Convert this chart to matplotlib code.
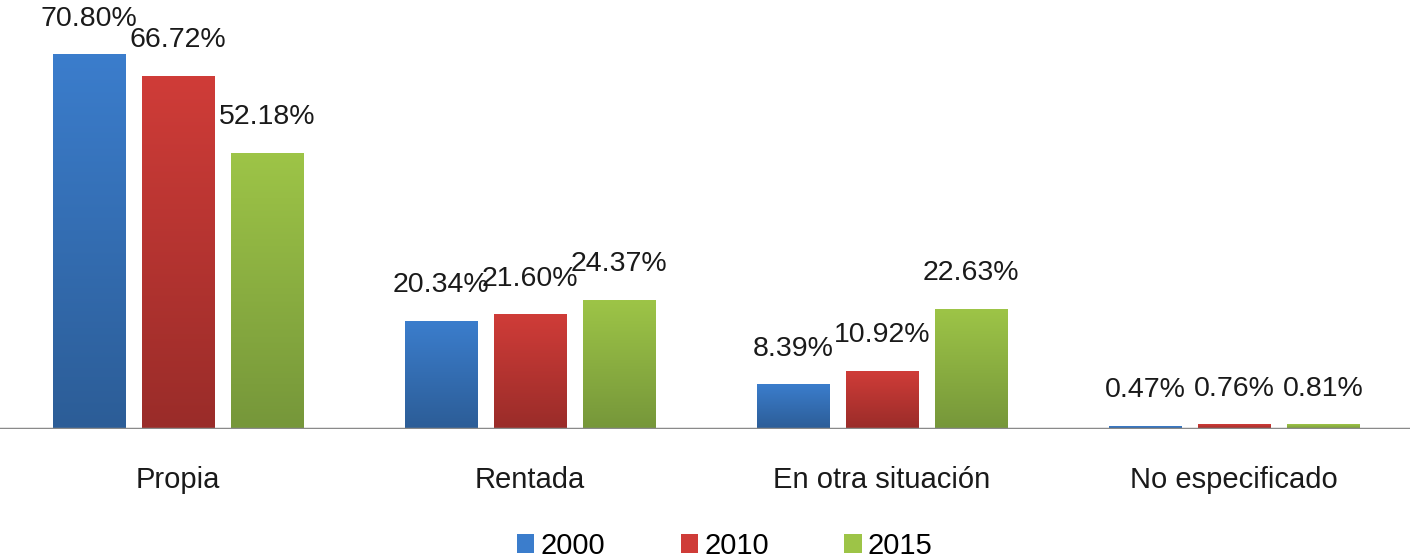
import matplotlib.pyplot as plt
import numpy as np
from matplotlib.colors import LinearSegmentedColormap
from matplotlib.patches import Patch

plt.rcParams['font.family'] = ['Liberation Sans', 'DejaVu Sans']

categories = ["Propia", "Rentada", "En otra situación", "No especificado"]
years = ["2000", "2010", "2015"]
v2000 = [70.80, 20.34, 8.39, 0.47]
v2010 = [66.72, 21.60, 10.92, 0.76]
v2015 = [52.18, 24.37, 22.63, 0.81]

# top colour, bottom colour for each series
shades = [("#3b7dcc", "#2c5d97"), ("#cf3c38", "#9a2c29"), ("#9dc447", "#76973a")]

fig = plt.figure(figsize=(14.1, 5.6), dpi=100)
ax = fig.add_axes([0, 0.234, 1, 0.766])

x = np.arange(len(categories))
width = 0.207
step = 0.253
grad = np.linspace(1, 0, 64).reshape(-1, 1)

for i, (vals, (top, bot)) in enumerate(zip([v2000, v2010, v2015], shades)):
    bars = ax.bar(x + (i - 1) * step, vals, width, color=top, zorder=2)
    cmap = LinearSegmentedColormap.from_list("g%d" % i, [bot, top])
    for b, v in zip(bars, vals):
        x0, w, h = b.get_x(), b.get_width(), b.get_height()
        ax.imshow(grad, cmap=cmap, extent=(x0, x0 + w, 0, h), aspect="auto",
                  zorder=3, interpolation="bilinear")
        ax.annotate(f"{v:.2f}%", (x0 + w / 2, h), xytext=(0, 26),
                    textcoords="offset points", ha="center", va="center",
                    fontsize=20.5, color="#1a1a1a")

ax.set_xlim(-0.506, 3.5)
ax.set_ylim(0, 81.2)
ax.axhline(0, color="#8a8a8a", lw=2.5, zorder=4)

for s in ax.spines.values():
    s.set_visible(False)
ax.set_yticks([])
ax.set_xticks(x)
ax.set_xticklabels(categories, fontsize=21, color="#1a1a1a")
ax.tick_params(axis="x", length=0, pad=27)

handles = [Patch(facecolor=c[0], label=y) for c, y in zip(shades, years)]
fig.legend(handles=handles, loc="center", bbox_to_anchor=(0.514, 0.025), ncol=3,
           frameon=False, fontsize=21, handlelength=0.6, handleheight=0.6,
           handletextpad=0.2, columnspacing=2.6)

fig.savefig("out.png", dpi=100)
